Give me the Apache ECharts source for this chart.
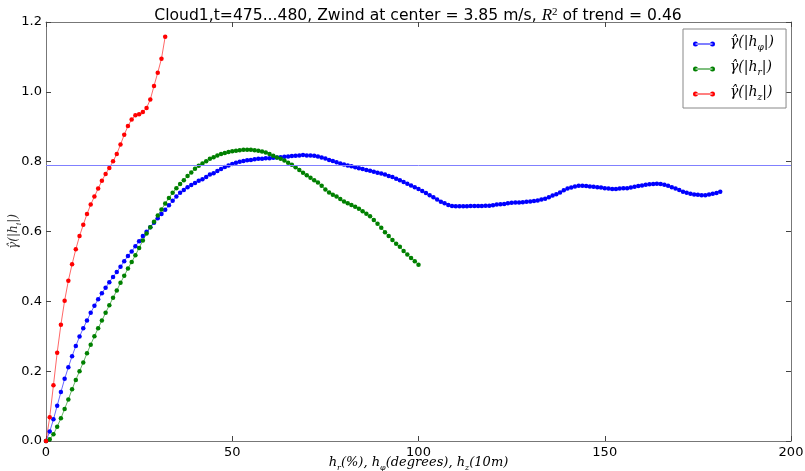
<!DOCTYPE html>
<html>
<head>
<meta charset="utf-8">
<script src="https://cdn.jsdelivr.net/npm/echarts@6/dist/echarts.min.js"></script>
<style>
  html, body { margin: 0; padding: 0; background: #fff; }
  #chart { width: 805px; height: 471px; }
</style>
</head>
<body>
<div id="chart"></div>
<script>
// Semivariogram estimates per lag (lag 0, 1, 2, ... in axis units)
const gammaPhi = [
  0, 0.027, 0.062, 0.101, 0.140, 0.178, 0.211, 0.243, 0.272, 0.299,
  0.323, 0.345, 0.367, 0.387, 0.406, 0.423, 0.439, 0.455, 0.470, 0.484,
  0.499, 0.515, 0.530, 0.543, 0.558, 0.572, 0.587, 0.599, 0.612, 0.625,
  0.638, 0.650, 0.662, 0.675, 0.688, 0.700, 0.711, 0.719, 0.727, 0.733,
  0.739, 0.745, 0.750, 0.756, 0.763, 0.767, 0.773, 0.779, 0.785, 0.789,
  0.793, 0.797, 0.800, 0.802, 0.804, 0.805, 0.807, 0.808, 0.808, 0.810,
  0.810, 0.811, 0.812, 0.813, 0.814, 0.815, 0.816, 0.817, 0.818, 0.819,
  0.818, 0.818, 0.817, 0.815, 0.812, 0.809, 0.805, 0.802, 0.798, 0.795,
  0.792, 0.789, 0.787, 0.784, 0.781, 0.779, 0.776, 0.774, 0.771, 0.768,
  0.766, 0.763, 0.759, 0.756, 0.751, 0.747, 0.742, 0.737, 0.732, 0.727,
  0.722, 0.716, 0.710, 0.704, 0.698, 0.692, 0.685, 0.681, 0.676, 0.673,
  0.672, 0.672, 0.672, 0.672, 0.673, 0.673, 0.673, 0.673, 0.674, 0.674,
  0.675, 0.677, 0.678, 0.679, 0.681, 0.682, 0.683, 0.683, 0.684, 0.685,
  0.686, 0.687, 0.689, 0.692, 0.694, 0.698, 0.703, 0.707, 0.712, 0.718,
  0.723, 0.726, 0.729, 0.731, 0.731, 0.730, 0.729, 0.728, 0.727, 0.726,
  0.724, 0.723, 0.722, 0.722, 0.723, 0.724, 0.724, 0.726, 0.728, 0.730,
  0.732, 0.734, 0.735, 0.736, 0.737, 0.736, 0.734, 0.731, 0.727, 0.723,
  0.719, 0.714, 0.711, 0.708, 0.706, 0.705, 0.704, 0.704, 0.706, 0.708,
  0.710, 0.714
];

const gammaR = [
  0, 0.005, 0.019, 0.041, 0.065, 0.092, 0.119, 0.148, 0.175, 0.200,
  0.225, 0.251, 0.276, 0.300, 0.323, 0.345, 0.367, 0.389, 0.410, 0.431,
  0.453, 0.473, 0.494, 0.513, 0.532, 0.553, 0.574, 0.594, 0.612, 0.628,
  0.646, 0.663, 0.680, 0.696, 0.711, 0.724, 0.736, 0.747, 0.759, 0.769,
  0.780, 0.788, 0.795, 0.801, 0.808, 0.813, 0.818, 0.822, 0.825, 0.828,
  0.830, 0.831, 0.833, 0.834, 0.834, 0.834, 0.833, 0.831, 0.829, 0.826,
  0.822, 0.817, 0.812, 0.808, 0.803, 0.797, 0.791, 0.784, 0.776, 0.768,
  0.761, 0.754, 0.747, 0.740, 0.731, 0.720, 0.712, 0.705, 0.700, 0.693,
  0.686, 0.681, 0.676, 0.671, 0.665, 0.658, 0.651, 0.644, 0.633, 0.622,
  0.611, 0.598, 0.587, 0.576, 0.565, 0.556, 0.544, 0.534, 0.524, 0.515,
  0.505
];

const gammaZ = [
  0, 0.068, 0.160, 0.253, 0.333, 0.402, 0.459, 0.506, 0.549, 0.587,
  0.619, 0.650, 0.677, 0.700, 0.723, 0.745, 0.765, 0.782, 0.801, 0.822,
  0.849, 0.877, 0.902, 0.921, 0.933, 0.936, 0.942, 0.954, 0.978, 1.017,
  1.055, 1.095, 1.158
];

// Reference level drawn across the plot
const sillLevel = 0.79;

const xTickLabels = ['0', '50', '100', '150', '200'];
const yTickLabels = ['0.0', '0.2', '0.4', '0.6', '0.8', '1.0', '1.2'];

const seriesNames = ['phi', 'r', 'z'];
const seriesColors = ['#0000ff', '#008000', '#ff0000'];

const toPairs = arr => arr.map((v, i) => [i, v]);

const mathFont = 'DejaVu Serif';
const axisColor = '#777';

// legend glyph: short line with a dot at each end
const legendIcon = 'path://M2.5,2.6h17v0.9h-17z M0,3a2.5,2.5 0 1,0 5,0a2.5,2.5 0 1,0 -5,0z M17,3a2.5,2.5 0 1,0 5,0a2.5,2.5 0 1,0 -5,0z';

const subRich = {
  m: { fontFamily: mathFont, fontStyle: 'italic', fontSize: 14, lineHeight: 18, verticalAlign: 'top', color: '#000' },
  s: { fontFamily: mathFont, fontStyle: 'italic', fontSize: 9, lineHeight: 9, padding: [8, 0, 0, 0], verticalAlign: 'top', color: '#000' }
};

const legendLabels = {
  phi: '{m|γ̂(|h}{s|φ}{m||)}',
  r: '{m|γ̂(|h}{s|r}{m||)}',
  z: '{m|γ̂(|h}{s|z}{m||)}'
};

const chart = echarts.init(document.getElementById('chart'), null, { renderer: 'canvas' });

const baseSeries = (name, data, color) => ({
  name: name,
  type: 'line',
  data: toPairs(data),
  xAxisIndex: 0,
  yAxisIndex: 0,
  symbol: 'circle',
  symbolSize: 4.5,
  showSymbol: true,
  animation: false,
  itemStyle: { color: color },
  lineStyle: { color: color, width: 1, opacity: 0.6 },
  emphasis: { disabled: true }
});

const series = [
  baseSeries('phi', gammaPhi, seriesColors[0]),
  baseSeries('r', gammaR, seriesColors[1]),
  baseSeries('z', gammaZ, seriesColors[2])
];
series[0].markLine = {
  silent: true,
  symbol: 'none',
  animation: false,
  label: { show: false },
  lineStyle: { color: '#8080ff', width: 1, type: 'solid' },
  data: [{ yAxis: sillLevel }]
};

const xTickFmt = v => xTickLabels[Math.round(v / 50)];
const yTickFmt = v => yTickLabels[Math.round(v / 0.2)];

const tickStyle = { show: true, inside: true, length: 5, lineStyle: { color: '#444' } };

chart.setOption({
  backgroundColor: '#fff',
  animation: false,
  title: {
    text: 'Cloud1,t=475...480, Zwind at center = 3.85 m/s, {r|R}{sup|2} of trend = 0.46',
    left: 413,
    top: 2,
    textAlign: 'center',
    textStyle: {
      fontFamily: 'DejaVu Sans',
      fontSize: 15.6,
      fontWeight: 'normal',
      color: '#000',
      rich: {
        r: { fontFamily: 'Liberation Serif', fontStyle: 'italic', fontSize: 17, color: '#000' },
        sup: { fontFamily: 'Liberation Serif', fontSize: 11, color: '#000', padding: [0, 0, 7, 0], verticalAlign: 'top' }
      }
    }
  },
  grid: { left: 46, right: 14, top: 22, bottom: 30, containLabel: false, outerBoundsMode: 'none' },
  legend: {
    orient: 'vertical',
    left: 683,
    top: 29,
    itemWidth: 22,
    itemHeight: 6,
    itemGap: 8,
    padding: [6, 12, 6, 10],
    borderColor: '#888',
    borderWidth: 1,
    borderRadius: 0,
    backgroundColor: '#fff',
    selectedMode: false,
    data: seriesNames.map((n, i) => ({ name: n, icon: legendIcon, itemStyle: { color: seriesColors[i] } })),
    formatter: n => legendLabels[n],
    textStyle: { padding: [0, 0, 0, 10], rich: subRich }
  },
  xAxis: [
    {
      type: 'value', min: 0, max: 200, interval: 50, position: 'bottom',
      axisLine: { show: true, onZero: false, lineStyle: { color: axisColor } },
      axisTick: tickStyle,
      splitLine: { show: false },
      axisLabel: { formatter: xTickFmt, fontFamily: 'DejaVu Sans', fontSize: 13, color: '#000', margin: 5 },
      name: '{m|h}{s|r}{m|(%), h}{s|φ}{m|(degrees), h}{s|z}{m|(10m)}',
      nameLocation: 'middle',
      nameGap: 15,
      nameMoveOverlap: false,
      nameTextStyle: {
        rich: {
          m: { fontFamily: mathFont, fontStyle: 'italic', fontSize: 13, lineHeight: 17, verticalAlign: 'top', color: '#000' },
          s: { fontFamily: mathFont, fontStyle: 'italic', fontSize: 8, lineHeight: 8, padding: [8, 0, 0, 0], verticalAlign: 'top', color: '#000' }
        }
      }
    },
    {
      type: 'value', min: 0, max: 200, interval: 50, position: 'top',
      axisLine: { show: true, onZero: false, lineStyle: { color: axisColor } },
      axisTick: tickStyle,
      splitLine: { show: false },
      axisLabel: { show: false }
    }
  ],
  yAxis: [
    {
      type: 'value', min: 0, max: 1.2, interval: 0.2, position: 'left',
      axisLine: { show: true, onZero: false, lineStyle: { color: axisColor } },
      axisTick: tickStyle,
      splitLine: { show: false },
      axisLabel: { formatter: yTickFmt, fontFamily: 'DejaVu Sans', fontSize: 13, color: '#000', margin: 4 },
      name: '{m|γ̂(|h}{s|i}{m||)}',
      nameLocation: 'middle',
      nameRotate: 90,
      nameGap: 23,
      nameMoveOverlap: false,
      nameTextStyle: {
        rich: {
          m: { fontFamily: mathFont, fontStyle: 'italic', fontSize: 12, lineHeight: 15, verticalAlign: 'top', color: '#333' },
          s: { fontFamily: mathFont, fontStyle: 'italic', fontSize: 8, lineHeight: 8, padding: [7, 0, 0, 0], verticalAlign: 'top', color: '#333' }
        }
      }
    },
    {
      type: 'value', min: 0, max: 1.2, interval: 0.2, position: 'right',
      axisLine: { show: true, onZero: false, lineStyle: { color: axisColor } },
      axisTick: tickStyle,
      splitLine: { show: false },
      axisLabel: { show: false }
    }
  ],
  series: series
});
</script>
</body>
</html>
